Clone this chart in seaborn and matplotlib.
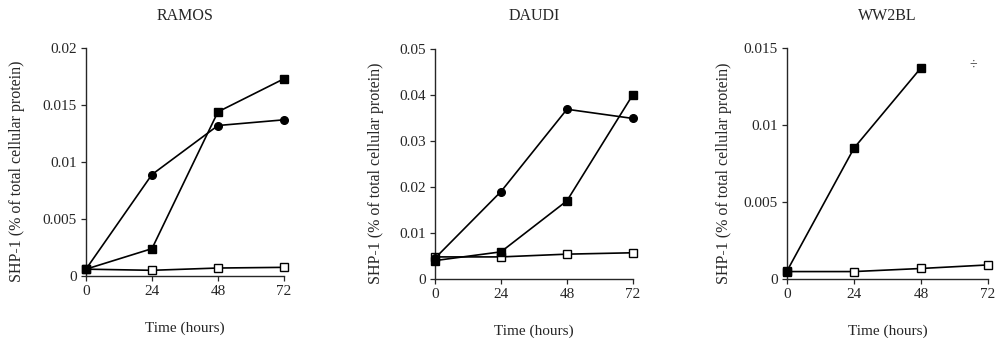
import matplotlib
matplotlib.use("Agg")
import matplotlib.pyplot as plt
from matplotlib.ticker import FuncFormatter
import pandas as pd
import seaborn as sns

# ── Data ─────────────────────────────────────────────────────────────────
hours = [0, 24, 48, 72]

ramos_filled_square = [0.0006, 0.0024, 0.0144, 0.0173]
ramos_filled_circle = [0.0006, 0.0089, 0.0132, 0.0137]
ramos_open_square   = [0.0006, 0.0005, 0.0007, 0.00076]

daudi_filled_square = [0.0040, 0.0059, 0.0170, 0.0401]
daudi_filled_circle = [0.0045, 0.0190, 0.0369, 0.0349]
daudi_open_square   = [0.0048, 0.0048, 0.0054, 0.0057]

ww2bl_hours_filled  = [0, 24, 48]
ww2bl_filled_square = [0.00054, 0.0085, 0.0137]
ww2bl_open_square   = [0.0005, 0.0005, 0.0007, 0.00093]

panel_titles = ["RAMOS", "DAUDI", "WW2BL"]
y_max        = [0.02, 0.05, 0.015]
y_ticks      = [[0, 0.005, 0.01, 0.015, 0.02],
                [0, 0.01, 0.02, 0.03, 0.04, 0.05],
                [0, 0.005, 0.01, 0.015]]

# ── Style ────────────────────────────────────────────────────────────────
sns.set_style("ticks")
plt.rcParams["font.family"] = ["Liberation Serif", "DejaVu Serif"]
plt.rcParams["xtick.direction"] = "out"
plt.rcParams["ytick.direction"] = "out"

fig = plt.figure(figsize=(9.96, 3.38), dpi=100)

# axes boxes in figure fractions (left, bottom, width, height)
boxes = [
    (0.0863, 0.1834, 0.1988, 0.6746),
    (0.4367, 0.1746, 0.1988, 0.6804),
    (0.7902, 0.1737, 0.2018, 0.6852),
]
ylabel_x = [-0.308, -0.258, -0.274]


def draw(ax, x, y, marker, filled, size):
    df = pd.DataFrame({"hours": x, "shp1": y})
    sns.lineplot(
        data=df, x="hours", y="shp1", ax=ax,
        color="black", linewidth=1.2,
        marker=marker, markersize=size,
        markerfacecolor="black" if filled else "white",
        markeredgecolor="black", markeredgewidth=1.0,
        clip_on=False, zorder=3,
    )


series = [
    [(hours, ramos_open_square, "s", False, 5.5),
     (hours, ramos_filled_circle, "o", True, 5.5),
     (hours, ramos_filled_square, "s", True, 5.5)],
    [(hours, daudi_open_square, "s", False, 5.5),
     (hours, daudi_filled_circle, "o", True, 5.5),
     (hours, daudi_filled_square, "s", True, 5.5)],
    [(hours, ww2bl_open_square, "s", False, 5.5),
     (ww2bl_hours_filled, ww2bl_filled_square, "s", True, 5.5)],
]

for i, box in enumerate(boxes):
    ax = fig.add_axes(box)
    for x, y, m, f, s in series[i]:
        draw(ax, x, y, m, f, s)

    ax.set_xlim(0, 72)
    ax.set_ylim(0, y_max[i])
    ax.set_xticks(hours)
    ax.set_yticks(y_ticks[i])
    ax.yaxis.set_major_formatter(FuncFormatter(lambda v, p: f"{v:g}"))
    ax.tick_params(labelsize=11, length=3.5, width=0.9, pad=3)
    sns.despine(ax=ax)
    for sp in ["left", "bottom"]:
        ax.spines[sp].set_linewidth(1.0)

    ax.set_xlabel("Time (hours)", fontsize=11, labelpad=17)
    ax.set_ylabel("SHP-1 (% of total cellular protein)", fontsize=11.5)
    ax.yaxis.set_label_coords(ylabel_x[i], 0.46)

    b = box
    fig.text(b[0] + b[2] / 2, 0.953, panel_titles[i],
             ha="center", va="center", fontsize=11.5)

# small stray mark in the WW2BL panel of the scan
fig.axes[2].text(0.925, 0.925, "÷", transform=fig.axes[2].transAxes,
                 ha="center", va="center", fontsize=10, color="#333333")

fig.savefig("out.png", dpi=100)
